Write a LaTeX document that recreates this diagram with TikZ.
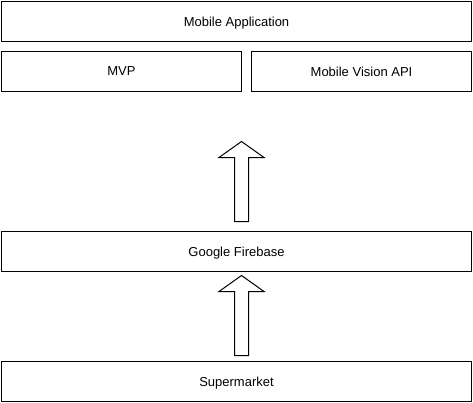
\documentclass[tikz,border=0pt]{standalone}
\usepackage{fontspec}
\setmainfont{Liberation Sans}
\begin{document}
\begin{tikzpicture}[x=1pt,y=-1pt,
  box/.style={draw=black,line width=1pt,fill=white,inner sep=0pt,text depth=0pt,font=\fontsize{13}{15}\selectfont},
  blockarrow/.style={draw=black,line width=1pt,fill=white,line join=miter}]
\useasboundingbox (0,0) rectangle (473,402);
\node[box,minimum width=470pt,minimum height=40pt] (app) at (236.5,21.5) {Mobile Application};
\node[box,minimum width=240pt,minimum height=40pt] (mvp) at (121.5,71.5) {MVP};
\node[box,minimum width=220pt,minimum height=40pt] (mva) at (361.5,71.5) {Mobile Vision API};
\node[box,minimum width=470pt,minimum height=40pt] (fb) at (236.5,251.5) {Google Firebase};
\node[box,minimum width=470pt,minimum height=40pt] (sm) at (236.5,381.5) {Supermarket};
\draw[blockarrow] (234.5,221.5) -- (234.5,157.5) -- (219,157.5) -- (241.5,141.5) -- (264,157.5) -- (248.5,157.5) -- (248.5,221.5) -- cycle;
\draw[blockarrow] (234.5,355.5) -- (234.5,291.5) -- (219,291.5) -- (241.5,275.5) -- (264,291.5) -- (248.5,291.5) -- (248.5,355.5) -- cycle;
\end{tikzpicture}
\end{document}
